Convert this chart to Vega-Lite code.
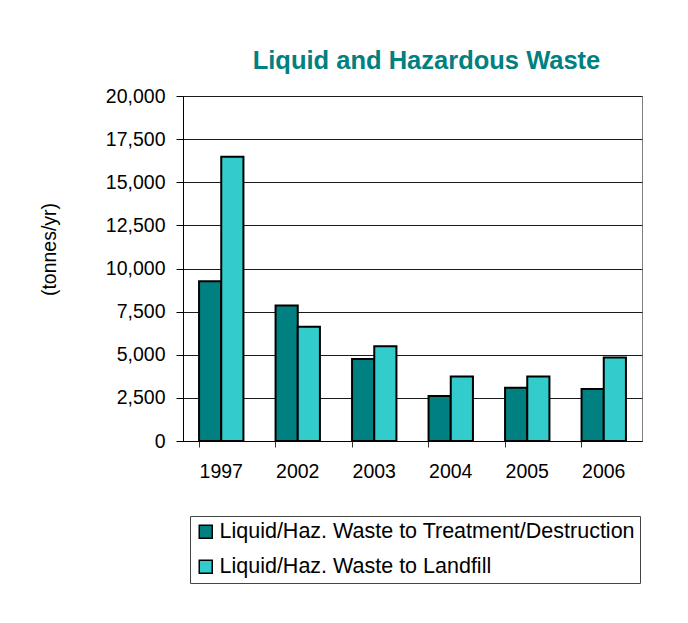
{
  "$schema": "https://vega.github.io/schema/vega-lite/v6.json",
  "autosize": "none",
  "width": 459,
  "height": 345,
  "padding": {"left": 183, "top": 96, "right": 46, "bottom": 182},
  "background": "white",
  "config": {
    "font": "Liberation Sans",
    "view": {"stroke": "#808080", "strokeWidth": 1},
    "legend": {"strokeColor": "#444", "strokeWidth": 1}
  },
  "title": {
    "text": "Liquid and Hazardous Waste",
    "color": "#008080",
    "fontSize": 25.5,
    "fontWeight": "bold",
    "font": "Liberation Sans",
    "anchor": "middle",
    "dx": 14,
    "offset": 12
  },
  "data": {
    "values": [
      {"year": "1997", "series": "Liquid/Haz. Waste to Treatment/Destruction", "value": 9260},
      {"year": "1997", "series": "Liquid/Haz. Waste to Landfill", "value": 16480},
      {"year": "2002", "series": "Liquid/Haz. Waste to Treatment/Destruction", "value": 7860},
      {"year": "2002", "series": "Liquid/Haz. Waste to Landfill", "value": 6620},
      {"year": "2003", "series": "Liquid/Haz. Waste to Treatment/Destruction", "value": 4760},
      {"year": "2003", "series": "Liquid/Haz. Waste to Landfill", "value": 5500},
      {"year": "2004", "series": "Liquid/Haz. Waste to Treatment/Destruction", "value": 2610},
      {"year": "2004", "series": "Liquid/Haz. Waste to Landfill", "value": 3740},
      {"year": "2005", "series": "Liquid/Haz. Waste to Treatment/Destruction", "value": 3080},
      {"year": "2005", "series": "Liquid/Haz. Waste to Landfill", "value": 3740},
      {"year": "2006", "series": "Liquid/Haz. Waste to Treatment/Destruction", "value": 3020},
      {"year": "2006", "series": "Liquid/Haz. Waste to Landfill", "value": 4840}
    ]
  },
  "mark": {"type": "bar", "stroke": "black", "strokeWidth": 2},
  "encoding": {
    "x": {
      "field": "year",
      "type": "nominal",
      "sort": null,
      "scale": {"paddingInner": 0.42, "paddingOuter": 0.21},
      "axis": {
        "title": null,
        "labelAngle": 0,
        "labelFontSize": 19.5,
        "labelColor": "black",
        "labelPadding": 15,
        "bandPosition": 0,
        "tickSize": 6,
        "tickColor": "#333",
        "domainColor": "black"
      }
    },
    "xOffset": {
      "field": "series",
      "type": "nominal",
      "sort": ["Liquid/Haz. Waste to Treatment/Destruction", "Liquid/Haz. Waste to Landfill"],
      "scale": {"paddingInner": 0, "paddingOuter": 0}
    },
    "y": {
      "field": "value",
      "type": "quantitative",
      "scale": {"domain": [0, 20000], "nice": false},
      "axis": {
        "title": "(tonnes/yr)",
        "titleFontSize": 19.5,
        "titleFontWeight": "normal",
        "titleColor": "black",
        "titleX": -128,
        "titleY": 153,
        "titleAngle": -90,
        "titleBaseline": "alphabetic",
        "titleAlign": "center",
        "values": [0, 2500, 5000, 7500, 10000, 12500, 15000, 17500, 20000],
        "format": ",.0f",
        "labelFontSize": 19.5,
        "labelColor": "black",
        "labelPadding": 11,
        "tickSize": 7,
        "tickColor": "black",
        "domainColor": "black",
        "grid": true,
        "gridColor": "#1a1a1a"
      }
    },
    "color": {
      "field": "series",
      "type": "nominal",
      "sort": ["Liquid/Haz. Waste to Treatment/Destruction", "Liquid/Haz. Waste to Landfill"],
      "scale": {"range": ["#008080", "#33CCCC"]},
      "legend": {
        "title": null,
        "orient": "none",
        "legendX": 7,
        "legendY": 420,
        "direction": "vertical",
        "labelFontSize": 21.5,
        "labelColor": "black",
        "labelLimit": 600,
        "labelOffset": 3,
        "symbolType": "square",
        "symbolSize": 169,
        "symbolStrokeColor": "black",
        "symbolStrokeWidth": 1.5,
        "symbolOpacity": 1,
        "rowPadding": 12,
        "padding": 5,
        "strokeColor": "#444"
      }
    }
  }
}
